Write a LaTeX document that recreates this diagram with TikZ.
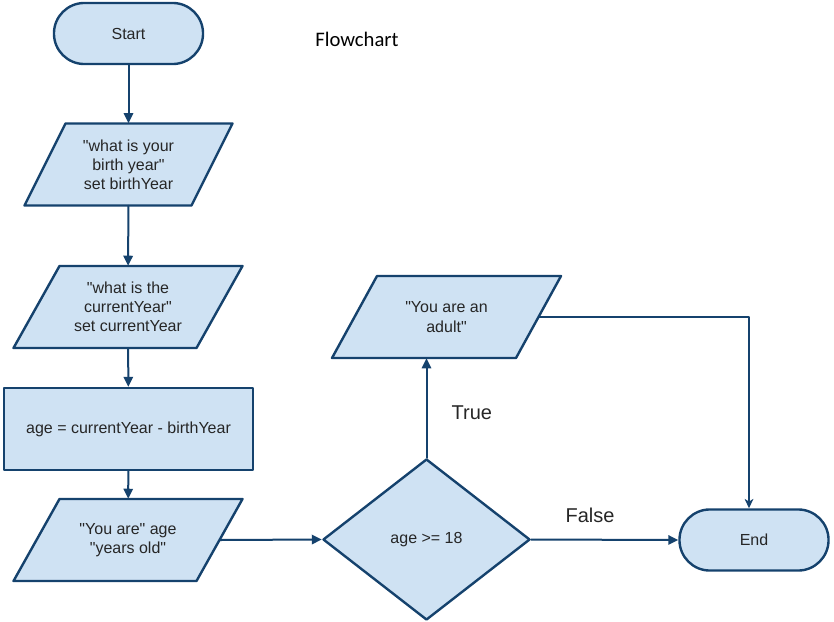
\documentclass[tikz,border=0pt]{standalone}
\usepackage{fontspec}
\setmainfont{Liberation Sans}[Ligatures=TeXOff]
\newfontfamily\titlefont{Carlito}
\usetikzlibrary{arrows.meta,calc,positioning,shapes.geometric}
\definecolor{BoxFill}{HTML}{CFE2F3}
\definecolor{BoxEdge}{HTML}{15426D}
\definecolor{BoxText}{HTML}{262626}
\tikzset{
  chartbox/.style={draw=BoxEdge,fill=BoxFill,line width=1.8pt,text=BoxText,
    font=\fontsize{12}{14.4}\selectfont,align=center,inner sep=0pt},
  chartlabel/.style={text=BoxText,font=\fontsize{12}{14.4}\selectfont,
    align=center,inner sep=0pt,minimum height=61.5pt},
  terminal/.style={chartbox,rectangle,rounded corners=22.8pt,
    minimum width=111.8pt,minimum height=45.8pt},
  procbox/.style={chartbox,rectangle,minimum width=186.8pt,minimum height=61.5pt},
  decision/.style={chartbox,diamond,minimum width=155.3pt,minimum height=120.8pt},
  flow/.style={BoxEdge,line width=1.5pt,-{Triangle[length=7.5pt,width=7pt]}},
  branch/.style={text=BoxText,font=\fontsize{15}{18}\selectfont}
}
% input/output box: name, centre, top edge length, slant, text
\newcommand{\ioshape}[5]{%
  \path[draw=BoxEdge,fill=BoxFill,line width=1.8pt]
    ($(#2)+({-#3/2+#4/2},-41)$) -- ($(#2)+({#3/2+#4/2},-41)$)
    -- ($(#2)+({#3/2-#4/2},41)$) -- ($(#2)+({-#3/2-#4/2},41)$) -- cycle;
  \node[chartlabel,minimum width={#3*0.75pt}] (#1) at (#2) {#5};
}

\begin{document}
\begin{tikzpicture}[x=0.75pt,y=-0.75pt,line cap=round,line join=round]
  \useasboundingbox (0,0) rectangle (834,621);
  % left column: input and computation
  \node[terminal] (start) at (128.5,33.5) {Start};
  \ioshape{askbirth}{128.5,164.5}{167}{41}{"what is your\\birth year"\\set birthYear}
  \ioshape{asknow}{128,307}{183}{46}{"what is the\\currentYear"\\set currentYear}
  \node[procbox] (calcage) at (128.5,429) {age = currentYear - birthYear};
  \ioshape{showage}{128,540}{183}{46}{"You are" age\\"years old"}
  % right side: the test and its outcomes
  \node[decision] (isadult) at (426.5,539.5) {age >= 18};
  \ioshape{adultmsg}{446.5,317}{184}{45}{"You are an\\adult"}
  \node[terminal] (stop) at (754,540) {End};
  \node[font=\titlefont\fontsize{15.5}{18}\selectfont] (title) at (357,39) {Flowchart};

  \draw[flow] (start) -- (askbirth);
  \draw[flow] (askbirth) -- (asknow);
  \draw[flow] (asknow) -- (calcage);
  \draw[flow] (calcage) -- (showage);
  \draw[flow] (showage.east) -- (isadult.west);
  \draw[flow] (isadult.north) -- node[branch,pos=0.45,xshift=34pt] {True}
    (isadult.north |- adultmsg.south);
  \draw[flow] (isadult.east) -- node[branch,pos=0.4,yshift=18pt] {False}
    (stop.west);
  \draw[BoxEdge,line width=1.5pt,-{Stealth[length=7pt,width=6.5pt,inset=2pt]}]
    (adultmsg.east) -| ([xshift=-3.75pt]stop.north);
\end{tikzpicture}
\end{document}
